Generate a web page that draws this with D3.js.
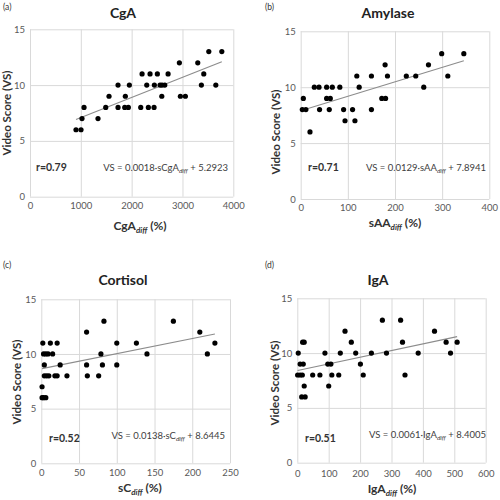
<!DOCTYPE html>
<html><head><meta charset="utf-8">
<script src="https://cdn.jsdelivr.net/npm/d3@7"></script>
<style>body{margin:0;background:#fff}svg{display:block}</style>
</head><body>
<svg id="c" width="500" height="500"></svg>
<script>
// ---- data ----
const cgaX = [905,1004,1023,1063,1338,1490,1555,1732,1732,1876,1864,1935,1955,2179,2205,2297,2329,2362,2441,2447,2506,2559,2598,2652,2593,2717,2939,2959,3057,3301,3372,3419,3518,3656,3774];
const cgaY = [6,6,7,8,7,8,9,10,8,9,8,8,10,8,11,10,8,11,8,10,11,10,10,10,9,11,12,9,9,12,10,11,13,10,13];
const amyX = [5.6,3.4,11,19.7,28.9,38.8,40,55,55,62.8,60.6,67,83,91,94,110,115,119,124,150,150,172,180,179,184,224,244,261,271,299,312,346];
const amyY = [9,8,8,6,10,10,8,10,9,9,8,10,10,8,7,8,7,11,10,11,8,9,9,12,11,11,11,10,12,13,11,13];
const corX = [2,12,21,3,6,9,15,4,25,4,7,10,18,21,34,1,1,3,6,60,83,60,61,76,79,81,100,100,126,140,175,210,220,230];
const corY = [11,11,11,10,10,10,10,9,9,8,8,8,8,8,8,7,6,6,6,12,13,9,8,8,10,9,11,9,11,10,13,12,10,11];
const igaX = [3,1,9,16,9,19,17,22,14,25,22,49,72,88,97,107,100,110,132,137,152,172,186,201,210,236,271,284,329,335,343,385,437,474,488,509];
const igaY = [10,8,8,8,9,9,11,11,6,6,7,8,8,10,9,9,7,8,8,10,12,11,10,9,8,10,13,10,13,11,8,10,12,11,10,11];

const yTicks = [0,5,10,15];
const cgaTicks = [0,1000,2000,3000,4000];
const amyTicks = [0,100,200,300,400];
const corTicks = [0,50,100,150,200,250];
const igaTicks = [0,100,200,300,400,500,600];

const panelLetters = ["(a)","(b)","(c)","(d)"];
const titles = ["CgA","Amylase","Cortisol","IgA"];
const xLabelMain = ["CgA","sAA","sC","IgA"];
const rLabels = ["r=0.79","r=0.71","r=0.52","r=0.51"];
const slopes = [0.0018,0.0129,0.0138,0.0061];
const intercepts = [5.2923,7.8941,8.6445,8.4005];
const slopeText = ["0.0018","0.0129","0.0138","0.0061"];
const interceptText = ["5.2923","7.8941","8.6445","8.4005"];
const eqVar = ["sCgA","sAA","sC","IgA"];

// ---- layout ----
const panels = [
  {xs:cgaX, ys:cgaY, ticks:cgaTicks, L:30, R:233.3, T:29.3, B:196.7,
   lab:[3,10], title:[123,18], ylab:[11,113], xlab:[140,230], xtb:209, r:[36,171], eq:[228,171]},
  {xs:amyX, ys:amyY, ticks:amyTicks, L:300.7, R:489.3, T:31.3, B:199,
   lab:[265,10], title:[388,18], ylab:[280,132], xlab:[395,227], xtb:211, r:[308,171], eq:[486,171]},
  {xs:corX, ys:corY, ticks:corTicks, L:41.3, R:230, T:299.3, B:463.3,
   lab:[3,268], title:[123,285], ylab:[21,382], xlab:[140,492], xtb:476, r:[49,442], eq:[225,439]},
  {xs:igaX, ys:igaY, ticks:igaTicks, L:297.3, R:485.7, T:298.3, B:462.7,
   lab:[265,268], title:[378,285], ylab:[279,383], xlab:[392,493], xtb:477, r:[305,442], eq:[486,438]}
];

const svg = d3.select("#c");
const FONT = "Lato, 'Open Sans', sans-serif";
const fmt = d3.format("d");

panels.forEach((p,i)=>{
  const ticks = p.ticks;
  const x = d3.scaleLinear().domain([0, ticks[ticks.length-1]]).range([p.L, p.R]);
  const y = d3.scaleLinear().domain([0,15]).range([p.B, p.T]);
  const g = svg.append("g");

  // gridlines
  g.append("g").attr("transform",`translate(0,${p.B})`)
    .call(d3.axisBottom(x).tickValues(ticks).tickSize(-(p.B-p.T)).tickFormat(""))
    .call(a=>a.selectAll("line").attr("stroke","#d9d9d9"))
    .call(a=>a.select(".domain").remove());
  g.append("g").attr("transform",`translate(${p.L},0)`)
    .call(d3.axisLeft(y).tickValues(yTicks).tickSize(-(p.R-p.L)).tickFormat(""))
    .call(a=>a.selectAll("line").attr("stroke","#d9d9d9"))
    .call(a=>a.select(".domain").remove());

  // tick labels
  g.append("g").attr("transform",`translate(0,${p.xtb})`)
    .call(d3.axisBottom(x).tickValues(ticks).tickSize(0).tickPadding(0).tickFormat(fmt))
    .call(a=>a.select(".domain").remove())
    .call(a=>a.selectAll("text").attr("dy",0).attr("fill","#595959")
      .style("font-family",FONT).style("font-size","9.5px"));
  g.append("g").attr("transform",`translate(${p.L-5},0)`)
    .call(d3.axisLeft(y).tickValues(yTicks).tickSize(0).tickPadding(0).tickFormat(fmt))
    .call(a=>a.select(".domain").remove())
    .call(a=>a.selectAll("text").attr("fill","#595959")
      .style("font-family",FONT).style("font-size","9.5px"));

  // trend line
  const xmin = d3.min(p.xs), xmax = d3.max(p.xs);
  g.append("path")
    .datum([xmin,xmax])
    .attr("d", d3.line().x(d=>x(d)).y(d=>y(slopes[i]*d+intercepts[i])))
    .attr("stroke","#8c8c8c").attr("stroke-width",1.1).attr("fill","none");

  // points
  g.selectAll("circle.pt").data(p.xs.map((v,k)=>[v,p.ys[k]])).join("circle")
    .attr("class","pt").attr("cx",d=>x(d[0])).attr("cy",d=>y(d[1]))
    .attr("r",2.6).attr("fill","#000");

  // texts
  g.append("text").attr("x",p.lab[0]).attr("y",p.lab[1]).text(panelLetters[i])
    .style("font-family",FONT).style("font-size","8.5px").attr("fill","#333");
  g.append("text").attr("x",p.title[0]).attr("y",p.title[1]).attr("text-anchor","middle")
    .text(titles[i]).style("font-family",FONT).style("font-size","14px").style("font-weight","bold").attr("fill","#222");
  g.append("text").attr("transform",`translate(${p.ylab[0]},${p.ylab[1]}) rotate(-90)`)
    .attr("text-anchor","middle").text("Video Score (VS)")
    .style("font-family",FONT).style("font-size","11.5px").style("font-weight","bold").attr("fill","#333");
  const xl = g.append("text").attr("x",p.xlab[0]).attr("y",p.xlab[1]).attr("text-anchor","middle")
    .style("font-family",FONT).style("font-size","12px").style("font-weight","bold").attr("fill","#333");
  xl.append("tspan").text(xLabelMain[i]);
  xl.append("tspan").attr("dy",3).style("font-size","8px").style("font-style","italic").text("diff");
  xl.append("tspan").attr("dy",-3).text(" (%)");

  g.append("text").attr("x",p.r[0]).attr("y",p.r[1]).text(rLabels[i])
    .style("font-family",FONT).style("font-size","10.5px").style("font-weight","bold").attr("fill","#333");
  const eq = g.append("text").attr("x",p.eq[0]).attr("y",p.eq[1]).attr("text-anchor","end")
    .style("font-family",FONT).style("font-size","9.5px").attr("fill","#404040");
  eq.append("tspan").text(`VS = ${slopeText[i]}·${eqVar[i]}`);
  eq.append("tspan").attr("dy",2).style("font-size","6.5px").style("font-style","italic").text("diff");
  eq.append("tspan").attr("dy",-2).text(` + ${interceptText[i]}`);
});
</script>
</body></html>
